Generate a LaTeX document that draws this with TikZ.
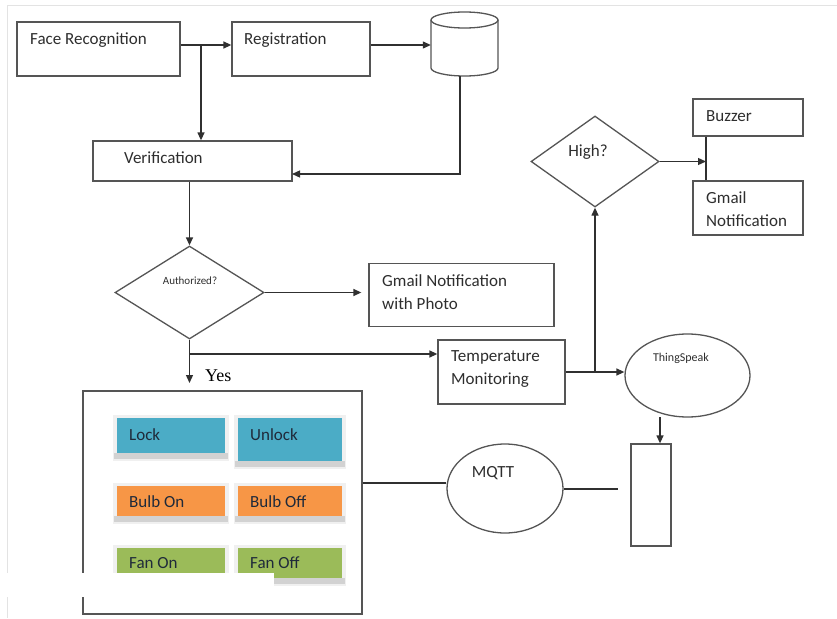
\documentclass[tikz,border=0pt]{standalone}
\usepackage{fontspec}
\setmainfont{Carlito}
\newfontfamily\serifyes{Liberation Serif}
\usetikzlibrary{shapes.geometric,arrows.meta,calc}
\definecolor{lg}{HTML}{555555}
\definecolor{ld}{HTML}{303030}
\definecolor{tg}{HTML}{2E2E2E}
\definecolor{btxt}{HTML}{1F2A3A}
\definecolor{bblue}{HTML}{4BACC6}
\definecolor{borange}{HTML}{F79646}
\definecolor{bgreen}{HTML}{9BBB59}
\tikzset{
  box/.style={draw=lg, line width=1.3pt, inner sep=0pt, fill=white},
  txt/.style={font=\fontsize{17}{19}\selectfont, text=tg, anchor=west, inner sep=0pt},
  smalltxt/.style={font=\fontsize{11}{13}\selectfont, text=tg, inner sep=0pt},
  arr/.style={draw=ld, line width=1.3pt, -{Triangle[length=8pt,width=7pt]}},
  ln/.style={draw=ld, line width=1.3pt},
  btn/.style={draw=none, inner sep=0pt},
  btntxt/.style={font=\fontsize{17}{19}\selectfont, text=btxt, anchor=west, inner sep=0pt},
}
\newcommand\btnbox[8]{%
  \fill[gray!12] (#2-4,#3-3) rectangle (#4+4,#5+8);
  \fill[gray!35] (#2-3,#5) rectangle (#4+3,#5+6);
  \node[btn, fill=#6, minimum width={(#4-#2)*1pt}, minimum height={(#5-#3)*1pt}] (#1) at ({(#2+#4)/2},{(#3+#5)/2}) {};
  \node[btntxt] at (#2+12,#8) {#7};
}
\begin{document}
\begin{tikzpicture}[x=1pt,y=-1pt]
\useasboundingbox[fill=white] (0,0) rectangle (837,618);
\draw[gray!22, line width=0.8pt] (7,618) -- (7,5) -- (837,5);

% top row
\node[box, minimum width=163pt, minimum height=54pt] (fr) at (98.5,49) {};
\node[txt] at (30,40) {Face Recognition};
\node[box, minimum width=138pt, minimum height=54pt] (reg) at (301,49) {};
\node[txt] at (244,40) {Registration};

% database cylinder
\node[inner sep=0pt, minimum width=67pt, minimum height=64pt] (db) at (464.5,44) {};
\fill[white] (431,20) -- (431,68) arc[start angle=180, end angle=360, x radius=33.5pt, y radius=8pt] -- (498,20) -- cycle;
\draw[lg, line width=1.3pt] (431,20) -- (431,68) arc[start angle=180, end angle=360, x radius=33.5pt, y radius=8pt] -- (498,20);
\draw[lg, line width=1.3pt, fill=white] (464.5,20) ellipse[x radius=33.5pt, y radius=8pt];

% verification
\node[box, minimum width=199pt, minimum height=40pt] (ver) at (192.5,161) {};
\node[txt] at (124,158) {Verification};

\coordinate (j1) at (201,45);
\draw[arr] (fr.east |- j1) -- (reg.west |- j1);
\draw[arr] (j1) -- (j1 |- ver.north);
\draw[arr] (reg.east |- j1) -- (db.west |- j1);
\coordinate (vin) at (292,174);
\draw[arr] (db.south -| 460,0) |- (vin);

% authorized
\node[diamond, draw=lg, line width=1.3pt, inner sep=0pt, minimum width=149pt, minimum height=93pt] (auth) at (189.5,292.5) {};
\node[smalltxt] at (190,281) {Authorized?};
\draw[arr] (auth.north |- ver.south) -- (auth.north);

\node[box, minimum width=185pt, minimum height=63pt] (gm1) at (461.5,295) {};
\node[txt] at (382,281) {Gmail Notification};
\node[txt] at (382,304) {with Photo};
\draw[arr] (auth.east) -- ([xshift=-7pt]gm1.west |- auth.east);

% yes branch
\coordinate (yesend) at (189.5,383);
\coordinate (j2) at (189.5,354);
\draw[arr] (auth.south) -- (yesend);
\node[font=\serifyes\fontsize{18}{20}\selectfont, anchor=west, inner sep=0pt, text=black] at (205,376) {Yes};

\node[box, minimum width=127pt, minimum height=64pt] (temp) at (501.5,372) {};
\node[txt] at (451,357) {Temperature};
\node[txt] at (451,380) {Monitoring};
\draw[arr] (j2) -- (j2 -| temp.west);

% thingspeak
\node[ellipse, draw=lg, line width=1.3pt, inner sep=0pt, minimum width=125pt, minimum height=83pt] (ts) at (687.5,375.5) {};
\node[font=\fontsize{12}{14}\selectfont, text=tg, inner sep=0pt] at (681,358) {ThingSpeak};
\draw[arr] (temp.east) -- (temp.east -| ts.west);

% high?
\node[diamond, draw=lg, line width=1.3pt, inner sep=0pt, minimum width=128pt, minimum height=91pt] (high) at (595,161.5) {};
\node[font=\fontsize{17}{19}\selectfont, text=tg, inner sep=0pt] at (588,152) {High?};
\coordinate (j3) at (595,372);
\draw[arr] (j3) -- (high.south);

\node[box, minimum width=110pt, minimum height=37pt] (buz) at (748,117.5) {};
\node[txt] at (706,116) {Buzzer};
\node[box, minimum width=110pt, minimum height=54pt] (gm2) at (748,208) {};
\node[txt] at (706,198) {Gmail};
\node[txt] at (706,221) {Notification};
\coordinate (bj) at (706,161.5);
\draw[ln] (buz.south -| bj) -- (gm2.north -| bj);
\draw[arr] (high.east) -- (bj);

% tall rectangle
\node[box, minimum width=40pt, minimum height=102pt] (tall) at (651,495) {};
\draw[arr] (660,417) -- (tall.north -| 660,0);

% control box
\node[box, minimum width=279pt, minimum height=223pt] (ctrl) at (222.5,502.5) {};
\btnbox{lock}{117}{418}{225}{453}{bblue}{Lock}{435}
\btnbox{unlock}{238}{418}{342}{461}{bblue}{Unlock}{435}
\btnbox{bon}{117}{486}{225}{516}{borange}{Bulb On}{502}
\btnbox{boff}{238}{486}{342}{516}{borange}{Bulb Off}{502}
\btnbox{fon}{117}{548}{225}{578}{bgreen}{Fan On}{563}
\btnbox{foff}{238}{548}{342}{578}{bgreen}{Fan Off}{563}

% mqtt
\node[ellipse, draw=lg, line width=1.3pt, inner sep=0pt, minimum width=116pt, minimum height=89pt] (mqtt) at (505,488.5) {};
\node[font=\fontsize{17}{19}\selectfont, text=tg, inner sep=0pt] at (493,473) {MQTT};
\draw[ln] (ctrl.east |- 0,483) -- (mqtt.west |- 0,483);
\coordinate (mq2) at (618,489);
\draw[ln] (mqtt.east |- mq2) -- (mq2);

% white patch
\fill[white] (5,573) rectangle (274,597);
\end{tikzpicture}
\end{document}
